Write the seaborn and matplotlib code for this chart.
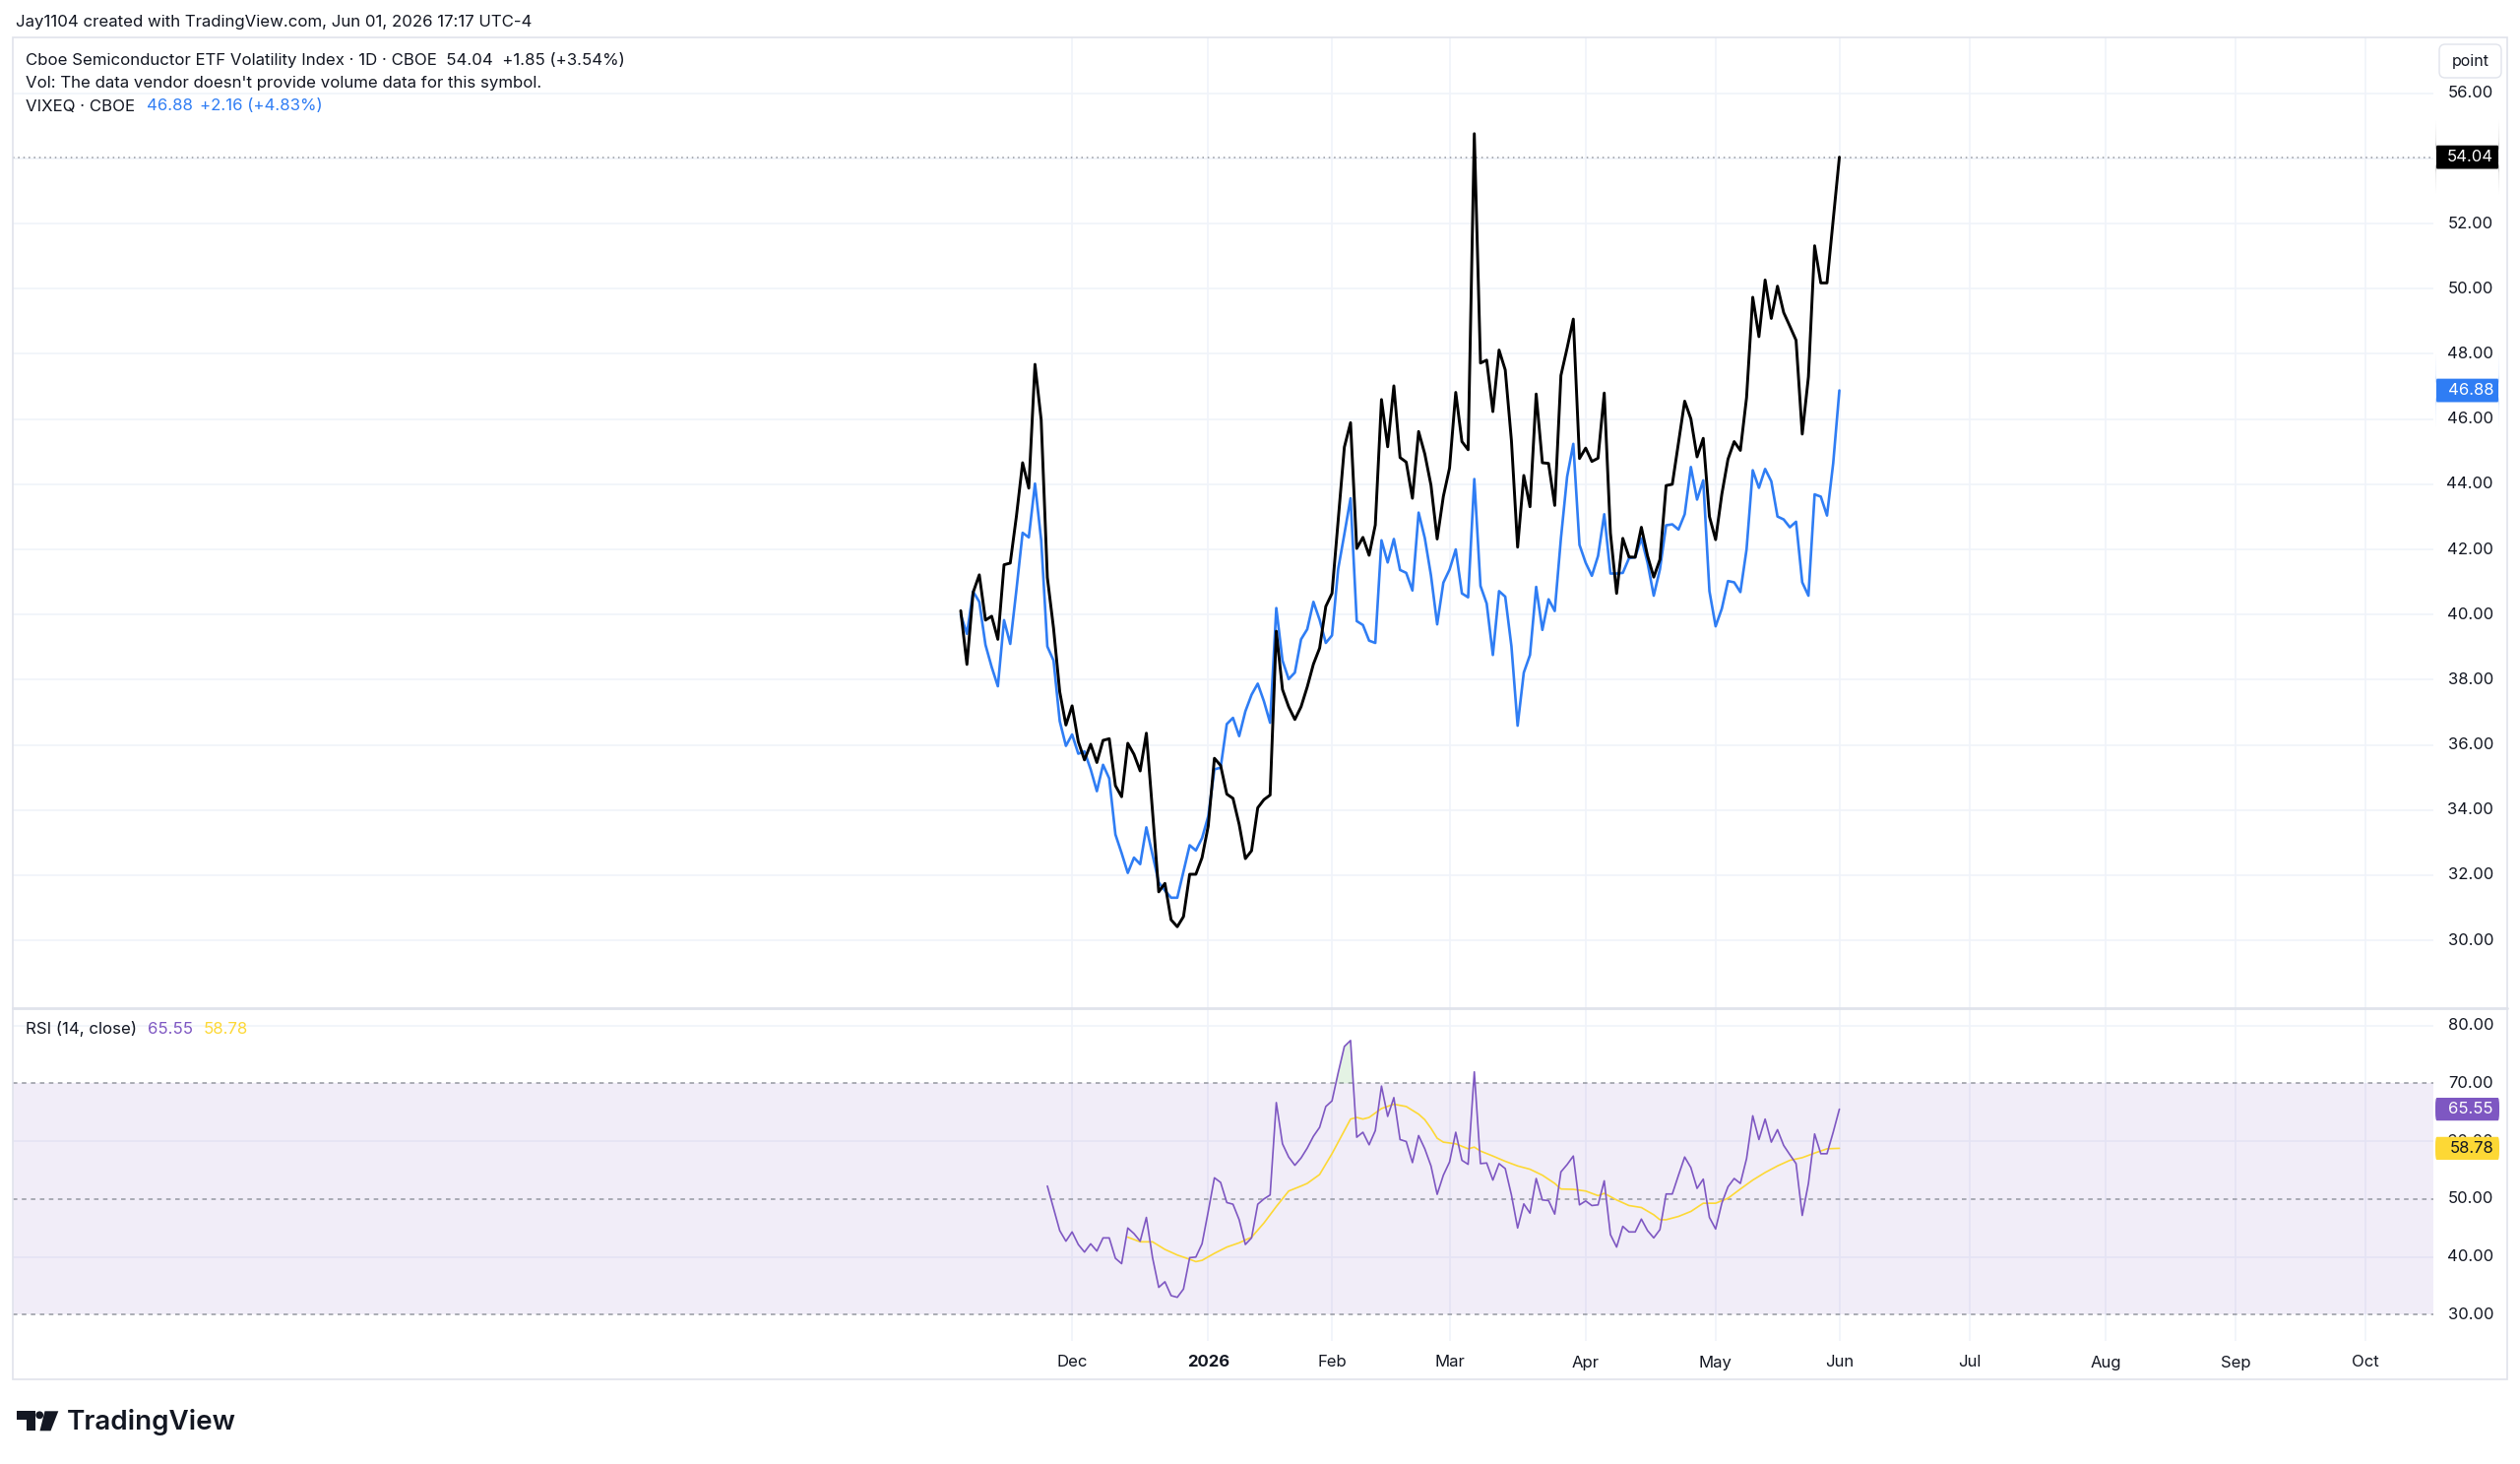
import numpy as np
import pandas as pd
import seaborn as sns
import matplotlib
matplotlib.use("Agg")
import matplotlib.pyplot as plt
from matplotlib import transforms as mtransforms
from matplotlib.patches import Rectangle, FancyBboxPatch, Polygon, Circle
from matplotlib.lines import Line2D

# ---------------- data (daily bars, Nov 4 2025 -> Jun 1 2026) ----------------
vxsmh = [
    40.12, 38.47, 40.68, 41.22, 39.83, 39.95, 39.24, 41.53, 41.58, 43.02,
    44.66, 43.88, 47.68, 45.98, 41.14, 39.58, 37.63, 36.61, 37.2, 36.1,
    35.54, 36.02, 35.46, 36.14, 36.19, 34.75, 34.41, 36.05, 35.71, 35.2,
    36.36, 33.95, 31.49, 31.75, 30.63, 30.42, 30.73, 32.03, 32.03, 32.54,
    33.51, 35.59, 35.37, 34.49, 34.36, 33.56, 32.51, 32.75, 34.07, 34.32,
    34.46, 39.49, 37.7, 37.17, 36.78, 37.17, 37.78, 38.48, 38.97, 40.25,
    40.65, 42.9, 45.14, 45.89, 42.03, 42.37, 41.82, 42.75, 46.6, 45.15,
    47.02, 44.82, 44.68, 43.57, 45.62, 44.93, 43.97, 42.32, 43.63, 44.5,
    46.82, 45.31, 45.06, 54.76, 47.72, 47.81, 46.23, 48.12, 47.51, 45.34,
    42.07, 44.27, 43.31, 46.77, 44.66, 44.64, 43.35, 47.34, 48.18, 49.07,
    44.79, 45.11, 44.7, 44.8, 46.8, 42.5, 40.65, 42.34, 41.77, 41.76,
    42.68, 41.8, 41.15, 41.69, 43.96, 44.0, 45.27, 46.55, 46.01, 44.84,
    45.41, 43.01, 42.3, 43.69, 44.77, 45.31, 45.04, 46.66, 49.74, 48.53,
    50.27, 49.09, 50.08, 49.27, 48.85, 48.42, 45.54, 47.3, 51.32, 50.18,
    50.18, 52.1, 54.04,
]
vixeq = [
    40.0, 39.41, 40.71, 40.39, 39.07, 38.39, 37.8, 39.83, 39.1, 40.76,
    42.51, 42.37, 44.02, 42.29, 39.02, 38.59, 36.73, 35.97, 36.32, 35.73,
    35.8, 35.25, 34.58, 35.39, 34.97, 33.25, 32.68, 32.07, 32.54, 32.34,
    33.47, 32.63, 31.78, 31.53, 31.31, 31.31, 32.12, 32.92, 32.76, 33.14,
    33.81, 35.25, 35.3, 36.64, 36.83, 36.27, 37.03, 37.54, 37.88, 37.34,
    36.68, 40.2, 38.59, 38.02, 38.22, 39.24, 39.55, 40.39, 39.84, 39.13,
    39.36, 41.4, 42.47, 43.57, 39.8, 39.68, 39.2, 39.13, 42.28, 41.6,
    42.32, 41.37, 41.28, 40.74, 43.13, 42.35, 41.2, 39.7, 40.98, 41.38,
    42.0, 40.65, 40.53, 44.16, 40.88, 40.34, 38.76, 40.72, 40.55, 39.03,
    36.59, 38.22, 38.76, 40.85, 39.53, 40.47, 40.11, 42.34, 44.23, 45.24,
    42.14, 41.59, 41.19, 41.8, 43.08, 41.26, 41.26, 41.28, 41.73, 41.76,
    42.34, 41.59, 40.58, 41.39, 42.74, 42.77, 42.61, 43.08, 44.53, 43.53,
    44.12, 40.72, 39.64, 40.18, 41.03, 40.99, 40.69, 42.0, 44.43, 43.89,
    44.47, 44.09, 43.01, 42.92, 42.68, 42.85, 40.99, 40.58, 43.69, 43.62,
    43.04, 44.64, 46.88,
]
rsi = [
    52.26, 48.44, 44.56, 42.73, 44.33, 42.16, 40.85, 42.28, 41.02, 43.3,
    43.3, 39.77, 38.85, 45.01, 44.04, 42.73, 46.84, 39.88, 34.75, 35.72,
    33.32, 33.03, 34.46, 39.88, 39.99, 42.28, 47.87, 53.69, 52.89, 49.41,
    49.12, 46.44, 42.16, 43.3, 49.12, 50.03, 50.72, 66.69, 59.56, 57.28,
    55.85, 57.11, 58.82, 60.87, 62.41, 66.01, 66.98, 71.83, 76.39, 77.42,
    60.7, 61.56, 59.39, 61.84, 69.54, 64.3, 67.55, 60.3, 59.96, 56.31,
    60.99, 58.7, 55.74, 50.83, 54.14, 56.42, 61.56, 56.71, 56.02, 72.0,
    56.14, 56.25, 53.29, 56.14, 55.28, 50.72, 45.01, 49.18, 47.58, 53.57,
    49.86, 49.75, 47.41, 54.71, 55.97, 57.45, 49.01, 49.69, 48.89, 49.01,
    53.17, 43.87, 41.71, 45.3, 44.33, 44.33, 46.55, 44.56, 43.3, 44.73,
    50.89, 50.89, 54.14, 57.28, 55.45, 51.86, 53.46, 46.84, 44.84, 49.29,
    52.14, 53.57, 52.72, 57.0, 64.41, 60.3, 63.84, 59.85, 62.01, 59.28,
    57.68, 56.14, 47.18, 52.72, 61.27, 57.85, 57.85, 61.56, 65.55,
]
ma_bar = [27, 29, 31, 33, 35, 37, 38, 39, 41, 43, 45, 47, 49, 51, 53, 55, 56, 58, 60, 62,
          63, 64, 65, 66, 68, 70, 72, 74, 75, 76, 77, 78, 80, 82, 83, 84, 86, 88, 90, 92,
          94, 96, 97, 99, 101, 103, 104, 106, 108, 110, 112, 113, 114, 116, 118, 120, 122, 124, 126, 128,
          130, 132, 134, 136, 138, 140, 142]
ma_val = [43.42, 42.62, 42.62, 41.31, 40.34, 39.6, 39.2, 39.42, 40.63, 41.71,
          42.45, 43.42, 45.87, 48.72, 51.4, 52.26, 52.72, 54.26, 57.85, 61.84,
          63.84, 64.12, 63.84, 64.12, 65.66, 66.41, 66.01, 64.69, 63.73, 62.24,
          60.53, 59.85, 59.56, 58.7, 58.99, 58.31, 57.45, 56.54, 55.74, 55.17,
          54.14, 52.72, 51.75, 51.69, 51.4, 50.6, 51.0, 49.86, 48.89, 48.55,
          47.3, 46.44, 46.44, 47.01, 47.87, 49.29, 49.29, 50.15, 51.75, 53.29,
          54.6, 55.74, 56.71, 57.17, 57.96, 58.7, 58.78]
month_pos = [18, 40, 60, 79, 101, 122, 142, 163, 185, 206, 227]
month_lbl = ["Dec", "2026", "Feb", "Mar", "Apr", "May", "Jun", "Jul", "Aug", "Sep", "Oct"]
price_ticks = [30, 32, 34, 36, 38, 40, 42, 44, 46, 48, 50, 52, 54, 56]
rsi_ticks = [30, 40, 50, 60, 70, 80]

bars = np.arange(len(vxsmh))
main_df = pd.DataFrame({"bar": bars, "VXSMH": vxsmh, "VIXEQ": vixeq})
rsi_df = pd.DataFrame({"bar": bars[14:], "RSI": rsi})
ma_df = pd.DataFrame({"bar": ma_bar, "MA": ma_val})

# ---------------- style ----------------
sns.set_theme(style="white")
plt.rcParams["font.family"] = ["Inter", "DejaVu Sans"]
TXT = "#131722"
GRID = "#f0f3fa"
BLUE = "#2f7df4"
PURPLE = "#7e57c2"
YELLOW = "#fdd835"
BORDER = "#e0e3eb"
FS_LEG = 12.1
FS_TICK = 12.0

W, H = 2560, 1487
fig = plt.figure(figsize=(W / 100, H / 100), dpi=100)
fig.patch.set_facecolor("white")
px = mtransforms.Affine2D().scale(1 / W, -1 / H).translate(0, 1) + fig.transFigure

L, R = 13, 2472
ax = fig.add_axes([L / W, 1 - 1024 / H, (R - L) / W, (1024 - 37.5) / H])
ax_r = fig.add_axes([L / W, 1 - 1362 / H, (R - L) / W, (1362 - 1024) / H])
xlim = (-153.2, 238.0)
for a in (ax, ax_r):
    a.set_xlim(*xlim)
    a.set_axis_off()
ax.set_ylim(27.92, 57.73)
ax_r.set_ylim(25.49, 83.01)

# grid
for v in price_ticks:
    ax.axhline(v, color=GRID, lw=1.2, zorder=0)
for v in (40, 60, 80):
    ax_r.axhline(v, color=GRID, lw=1.2, zorder=0)
for m in month_pos:
    ax.axvline(m, color=GRID, lw=1.2, zorder=0)
    ax_r.axvline(m, color=GRID, lw=1.2, zorder=0)

# main series
sns.lineplot(data=main_df, x="bar", y="VIXEQ", ax=ax, color=BLUE, lw=1.9, zorder=3)
sns.lineplot(data=main_df, x="bar", y="VXSMH", ax=ax, color="black", lw=2.1, zorder=4)
ax.axhline(vxsmh[-1], color="#9598a1", lw=1.1, ls=(0, (1, 2.5)), zorder=2)
ax.set_axis_off()

# RSI panel
ax_r.axhspan(30, 70, color=PURPLE, alpha=0.1, lw=0, zorder=0)
for v in (30, 50, 70):
    ax_r.axhline(v, color="#9598a1", lw=1.1, ls=(0, (3, 3)), zorder=1)
r_arr = np.array(rsi)
ax_r.fill_between(rsi_df["bar"], 70, r_arr, where=r_arr > 70, interpolate=True,
                  color="#4caf50", alpha=0.15, lw=0, zorder=1)
sns.lineplot(data=rsi_df, x="bar", y="RSI", ax=ax_r, color=PURPLE, lw=1.2, zorder=3)
sns.lineplot(data=ma_df, x="bar", y="MA", ax=ax_r, color=YELLOW, lw=1.2, zorder=2)
ax_r.set_axis_off()

# frame
fig.add_artist(Rectangle((L, 37.5), 2547 - L, 1401 - 37.5, transform=px, fill=False,
                         ec=BORDER, lw=1.2))
fig.add_artist(Line2D([L, 2547], [1023.5, 1023.5], transform=px, color=BORDER, lw=2.0))

# price scale labels
tp = mtransforms.blended_transform_factory(px, ax.transData)
for v in price_ticks:
    fig.text(2533, v, f"{v:.2f}", transform=tp, ha="right", va="center", fontsize=FS_TICK, color=TXT)
tr = mtransforms.blended_transform_factory(px, ax_r.transData)
for v in rsi_ticks:
    fig.text(2533, v, f"{v:.2f}", transform=tr, ha="right", va="center", fontsize=FS_TICK, color=TXT)


def tag(trans, val, h, bg, fg):
    fig.add_artist(FancyBboxPatch((2474, val - h / 2), 65, h, transform=trans,
                                  boxstyle="round,pad=0,rounding_size=1.5", fc=bg, ec="none", zorder=5))
    fig.text(2533, val, f"{val:.2f}", transform=trans, ha="right", va="center",
             fontsize=FS_TICK, color=fg, zorder=6)


tag(tp, vxsmh[-1], 0.72, "black", "white")
tag(tp, vixeq[-1], 0.72, BLUE, "white")
tag(tr, rsi[-1], 3.95, PURPLE, "white")
tag(tr, ma_val[-1], 3.95, YELLOW, TXT)

# "point" box
fig.add_artist(FancyBboxPatch((2478, 45), 63, 34, transform=px,
                              boxstyle="round,pad=0,rounding_size=6", fc="white", ec=BORDER, lw=1))
fig.text(2509.5, 62, "point", transform=px, ha="center", va="center", fontsize=11.5, color=TXT)

# time axis labels
tt = mtransforms.blended_transform_factory(ax_r.transData, px)
for p, lab in zip(month_pos, month_lbl):
    fig.text(p, 1384, lab, transform=tt, ha="center", va="center", fontsize=FS_TICK, color=TXT,
             fontweight="bold" if lab == "2026" else "normal")

# header / legends
fig.text(15.5, 22, "Jay1104 created with TradingView.com, Jun 01, 2026 17:17 UTC-4", transform=px,
         ha="left", va="center", fontsize=12.1, color=TXT)
fig.text(26.5, 61, "Cboe Semiconductor ETF Volatility Index \u00b7 1D \u00b7 CBOE  54.04  +1.85 (+3.54%)",
         transform=px, ha="left", va="center", fontsize=FS_LEG, color=TXT)
fig.text(26.5, 85, "Vol: The data vendor doesn't provide volume data for this symbol.",
         transform=px, ha="left", va="center", fontsize=FS_LEG, color=TXT)
fig.text(26.5, 108, "VIXEQ \u00b7 CBOE", transform=px, ha="left", va="center", fontsize=FS_LEG, color=TXT)
fig.text(148.5, 108, "46.88", transform=px, ha="left", va="center", fontsize=FS_LEG, color=BLUE)
fig.text(203, 108, "+2.16 (+4.83%)", transform=px, ha="left", va="center", fontsize=FS_LEG, color=BLUE)

fig.text(26.5, 1045, "RSI (14, close)", transform=px, ha="left", va="center", fontsize=FS_LEG, color=TXT)
fig.text(150, 1045, "65.55", transform=px, ha="left", va="center", fontsize=FS_LEG, color=PURPLE)
fig.text(206.5, 1045, "58.78", transform=px, ha="left", va="center", fontsize=FS_LEG, color=YELLOW)

# TradingView logo
fig.add_artist(Polygon([(16.7, 1433.3), (36, 1433.3), (36, 1453.3), (26.5, 1453.3), (26.5, 1441.5),
                        (16.7, 1441.5)], closed=True, transform=px, fc="#131722", ec="none"))
fig.add_artist(Circle((40.2, 1437.3), 3.9, transform=px, fc="#131722", ec="none"))
fig.add_artist(Polygon([(45.5, 1433.3), (59.3, 1433.3), (51.5, 1453.3), (40.5, 1453.3)], closed=True,
                       transform=px, fc="#131722", ec="none"))
fig.text(68, 1444, "TradingView", transform=px, ha="left", va="center", fontsize=20,
         fontweight="semibold", color="#131722")

fig.savefig("out.png", dpi=100, facecolor="white")
